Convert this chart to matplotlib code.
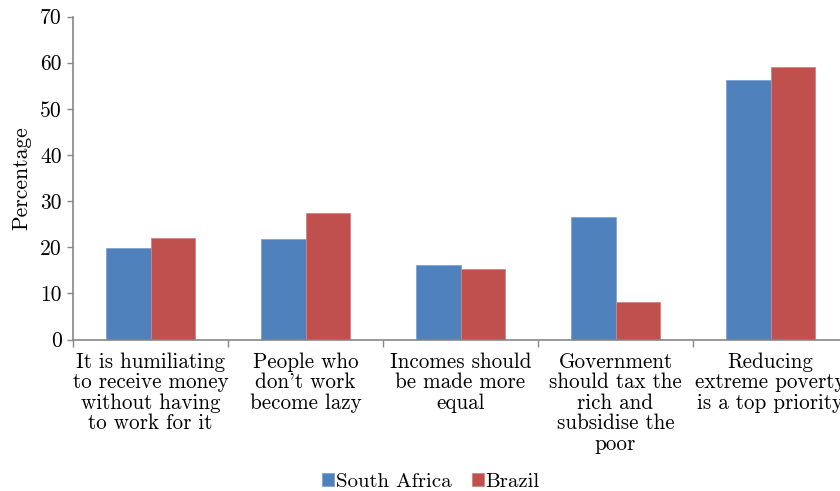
import matplotlib
matplotlib.use("Agg")
import matplotlib.pyplot as plt
import numpy as np

categories = [
    "It is humiliating\nto receive money\nwithout having\nto work for it",
    "People who\ndon't work\nbecome lazy",
    "Incomes should\nbe made more\nequal",
    "Government\nshould tax the\nrich and\nsubsidise the\npoor",
    "Reducing\nextreme poverty\nis a top priority",
]
south_africa = [19.8, 21.7, 16.1, 26.5, 56.2]
brazil = [22.1, 27.5, 15.2, 8.1, 59.1]
series_names = ["South Africa", "Brazil"]
yticks = [0, 10, 20, 30, 40, 50, 60, 70]

plt.rcParams["font.family"] = ["cmr10", "DejaVu Serif"]
plt.rcParams["axes.formatter.use_mathtext"] = True

FS = 15.2
W, H = 840, 491
fig = plt.figure(figsize=(W / 100, H / 100), dpi=100)
ax = fig.add_axes([73 / W, 1 - 339.5 / H, 775 / W, 323 / H])

x = np.arange(len(categories))
bw = 0.287
axis_col = "#868686"
ax.bar(x - bw / 2, south_africa, bw, color="#4F81BD", edgecolor="#7FA3D3",
       linewidth=0.6, label=series_names[0], zorder=2)
ax.bar(x + bw / 2, brazil, bw, color="#C0504D", edgecolor="#D48482",
       linewidth=0.6, label=series_names[1], zorder=2)

ax.set_xlim(-0.5, len(categories) - 0.5)
ax.set_ylim(0, 70)
ax.set_yticks(yticks)
ax.set_yticklabels([str(t) for t in yticks], fontsize=15.5)

ax.set_xticks(np.arange(len(categories) + 1) - 0.5)
ax.set_xticklabels([])
ax.set_xticks(x, minor=True)
ax.set_xticklabels(categories, minor=True, fontsize=FS, linespacing=1.07)
ax.tick_params(axis="x", which="major", length=5, width=1, color=axis_col, direction="out")
ax.tick_params(axis="x", which="minor", length=0, pad=9)
ax.tick_params(axis="y", length=4, width=1, color=axis_col, direction="out", pad=4)

for s in ["top", "right"]:
    ax.spines[s].set_visible(False)
for s in ["left", "bottom"]:
    ax.spines[s].set_color(axis_col)
    ax.spines[s].set_linewidth(1.2)

ax.set_ylabel("Percentage", fontsize=15.5, labelpad=6)

fig.legend(loc="lower center", bbox_to_anchor=(0.513, -0.038), ncol=2, frameon=False,
           fontsize=15, handlelength=0.55, handleheight=0.55, handletextpad=0.1,
           columnspacing=1.0)

fig.savefig("out.png", dpi=100)
